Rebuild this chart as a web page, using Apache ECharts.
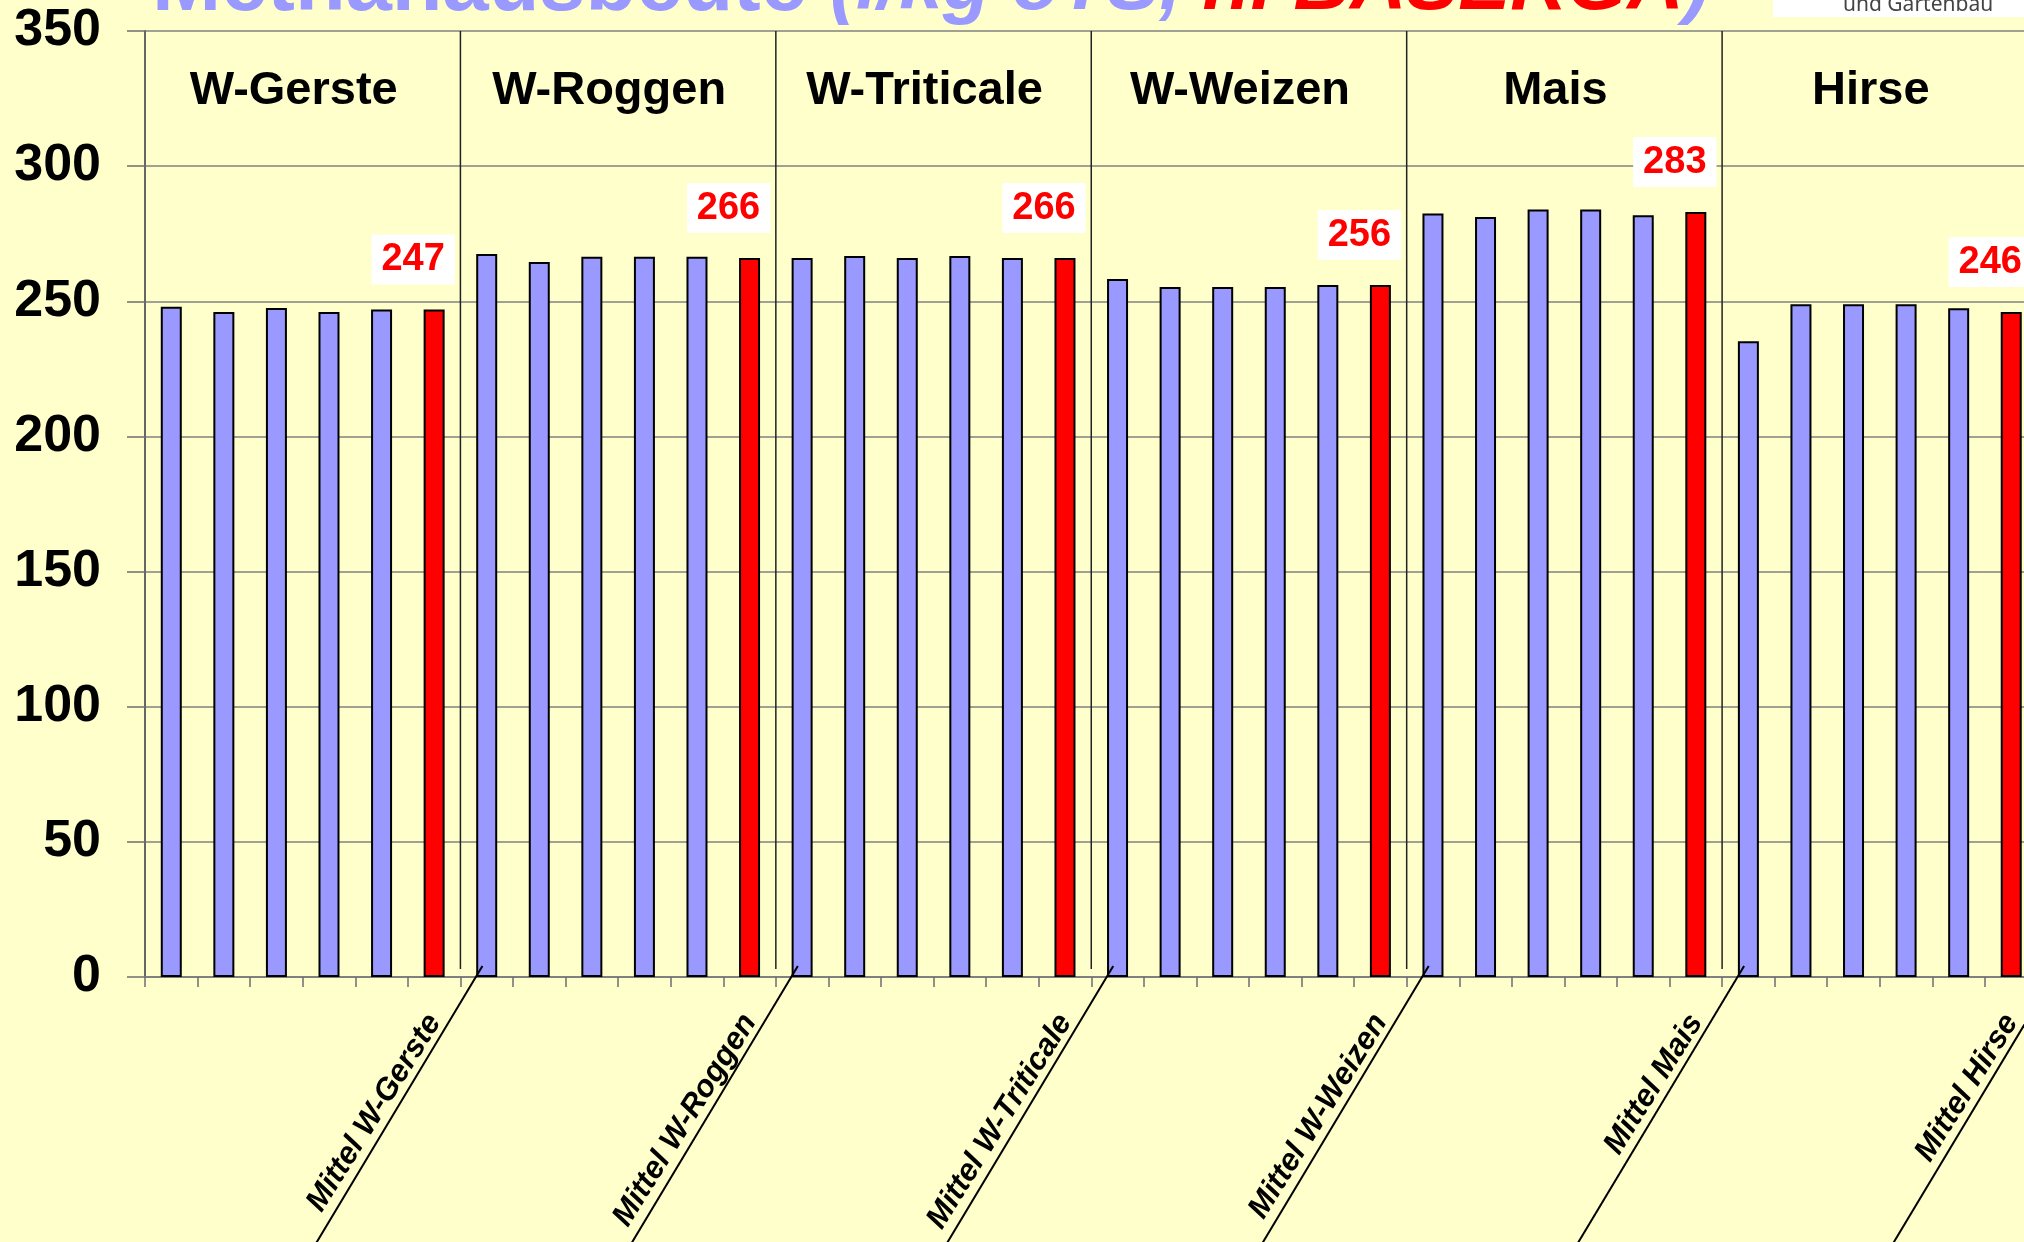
<!DOCTYPE html>
<html>
<head>
<meta charset="utf-8">
<script src="https://cdn.jsdelivr.net/npm/echarts@6/dist/echarts.min.js"></script>
<style>
  html, body { margin: 0; padding: 0; background: #FFFFCC; }
  #chart { width: 2024px; height: 1242px; }
</style>
</head>
<body>
<div id="chart"></div>
<script>
// Crop groups and their single samples (methane yield, l/kg oTS)
const groups = ['W-Gerste', 'W-Roggen', 'W-Triticale', 'W-Weizen', 'Mais', 'Hirse'];
const wGerste    = [248, 246, 247.5, 246, 247];
const wRoggen    = [267.5, 264.5, 266.5, 266.5, 266.5];
const wTriticale = [266, 266.8, 266, 266.8, 266];
const wWeizen    = [258.2, 255.3, 255.3, 255.3, 256];
const mais       = [282.5, 281.2, 284, 284, 281.8];
const hirse      = [235.2, 248.9, 248.9, 248.9, 247.4];
const groupMeans = [247, 266, 266, 256, 283, 246];
const sampleSets = [wGerste, wRoggen, wTriticale, wWeizen, mais, hirse];

const yMin = 0, yMax = 350, yStep = 50;

// Category list: five samples per crop followed by the crop mean
const categories = [];
const sampleData = [];
const meanData = [];
groups.forEach((g, gi) => {
  sampleSets[gi].forEach((v, i) => {
    categories.push(g + ' ' + (i + 1));
    sampleData.push(v);
    meanData.push('-');
  });
  categories.push('Mittel ' + g);
  sampleData.push('-');
  meanData.push(groupMeans[gi]);
});

const FONT = '"Liberation Sans", Arial, sans-serif';
const chart = echarts.init(document.getElementById('chart'), null, { renderer: 'canvas' });

const gridLeft = 145, gridTop = 31, gridHeight = 946, catWidth = 52.57;

chart.setOption({
  backgroundColor: '#FFFFCC',
  animation: false,
  textStyle: { fontFamily: FONT },
  grid: {
    left: gridLeft, top: gridTop, height: gridHeight,
    width: catWidth * categories.length,
    containLabel: false, outerBoundsMode: 'none'
  },
  xAxis: {
    type: 'category',
    data: categories,
    boundaryGap: true,
    axisLine: { lineStyle: { color: '#808080', width: 2 } },
    axisTick: { show: true, interval: 0, length: 10, lineStyle: { color: '#6e6e6e', width: 1.5 } },
    axisLabel: {
      interval: 0,
      rotate: 58,
      margin: 40,
      fontSize: 31,
      fontWeight: 'bold',
      fontStyle: 'italic',
      color: '#000',
      formatter: (name) => name.indexOf('Mittel') === 0 ? name : ''
    },
    splitLine: { show: false }
  },
  yAxis: {
    type: 'value',
    min: yMin, max: yMax, interval: yStep,
    axisLine: { show: true, lineStyle: { color: '#666', width: 2 } },
    axisTick: { show: true, length: 18, lineStyle: { color: '#6e6e6e', width: 1.5 } },
    axisLabel: { fontSize: 52, fontWeight: 'bold', color: '#000', margin: 44 },
    splitLine: { show: true, lineStyle: { color: '#808080', width: 1.5 } }
  },
  series: [
    {
      name: 'Einzelwerte',
      type: 'bar',
      data: sampleData,
      barWidth: 21,
      barGap: '-100%',
      itemStyle: { color: '#9999FF', borderColor: '#000', borderWidth: 2 }
    },
    {
      name: 'Mittel',
      type: 'bar',
      data: meanData,
      barWidth: 21,
      barGap: '-100%',
      itemStyle: { color: '#FF0000', borderColor: '#000', borderWidth: 2 },
      label: {
        show: true,
        position: 'top',
        distance: 25,
        offset: [-21, 0],
        formatter: (p) => String(Math.round(p.value)),
        color: '#FF0000',
        fontSize: 38,
        fontWeight: 'bold',
        lineHeight: 40,
        backgroundColor: '#FFFFFF',
        padding: [5, 10]
      }
    }
  ]
});

// Decorations placed through the axis scales
const px = (i) => chart.convertToPixel({ xAxisIndex: 0 }, i);
const py = (v) => chart.convertToPixel({ yAxisIndex: 0 }, v);
const step = px(1) - px(0);
const boundary = (i) => px(i) - step / 2;   // left edge of category i
const yTop = py(yMax), yZero = py(yMin);

const graphics = [];

// Title (partly above the canvas edge)
graphics.push({
  type: 'text',
  left: 152, top: -54,
  z: 1,
  style: {
    text: '{a|Methanausbeute }{b|(l/kg oTS, }{c|n. BASERGA}{b|)}',
    rich: {
      a: { fontFamily: FONT, fontSize: 83, fontWeight: 'bold', fill: '#9999FF' },
      b: { fontFamily: FONT, fontSize: 78, fontWeight: 'bold', fontStyle: 'italic', fill: '#9999FF' },
      c: { fontFamily: FONT, fontSize: 78, fontWeight: 'bold', fontStyle: 'italic', fill: '#FF0000' }
    }
  }
});

// Institute logo strip in the top right corner
graphics.push({
  type: 'rect', z: 2,
  shape: { x: 1773, y: 0, width: 260, height: 17 },
  style: { fill: '#FFFFFF' }
});
graphics.push({
  type: 'text', z: 3,
  x: 1843, y: 16,
  style: {
    text: 'und Gartenbau',
    fontFamily: '"Noto Sans", "Open Sans", sans-serif',
    fontSize: 21, fill: '#444444',
    verticalAlign: 'bottom', align: 'left'
  }
});

groups.forEach((g, gi) => {
  const first = gi * 6;
  const center = (boundary(first) + boundary(first + 6)) / 2;
  // Group heading
  graphics.push({
    type: 'text', z: 5,
    x: center - 9, y: yTop + 60,
    style: {
      text: g, fontFamily: FONT, fontSize: 47, fontWeight: 'bold', fill: '#000',
      align: 'center', verticalAlign: 'middle'
    }
  });
  // Vertical divider between groups
  if (gi > 0) {
    const x = boundary(first);
    graphics.push({
      type: 'line', z: 4,
      shape: { x1: x, y1: yTop, x2: x, y2: yZero - 8 },
      style: { stroke: '#222', lineWidth: 1.5 }
    });
  }
  // Slanted separator line under the axis
  const xs = boundary(first + 6) + 22;
  const ys = yZero - 11;
  const len = 300;
  graphics.push({
    type: 'line', z: 4,
    shape: { x1: xs, y1: ys, x2: xs - len * 0.6, y2: ys + len },
    style: { stroke: '#000', lineWidth: 2 }
  });
});

chart.setOption({ graphic: graphics });
</script>
</body>
</html>
